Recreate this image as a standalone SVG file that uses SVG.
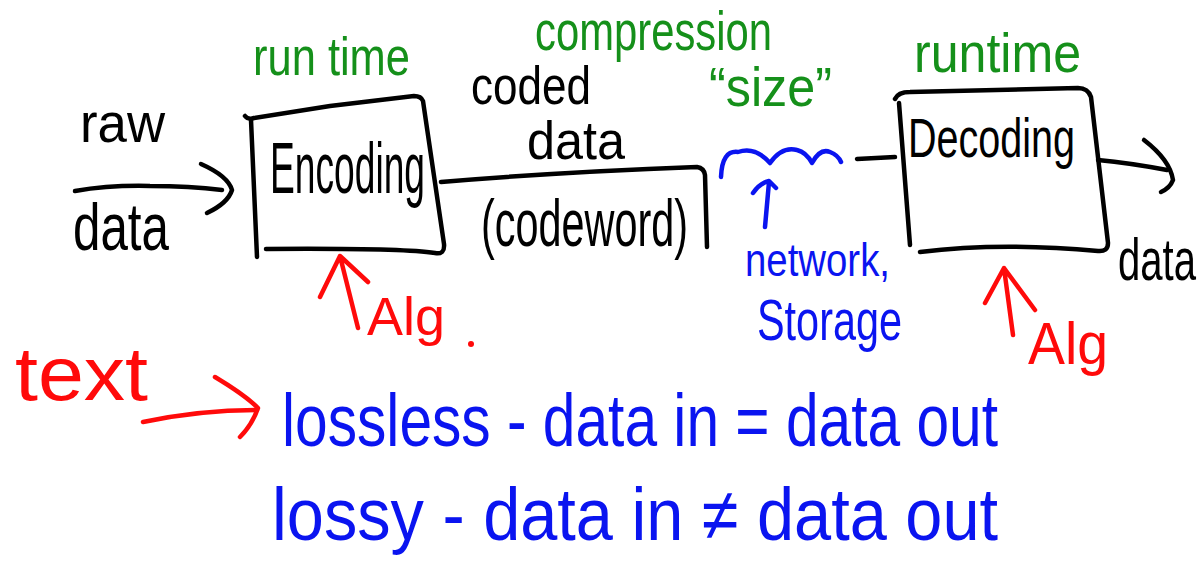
<svg xmlns="http://www.w3.org/2000/svg" width="1202" height="585" viewBox="0 0 1202 585">
<style>
.t{font-family:"Liberation Sans","DejaVu Sans",sans-serif;}
.k{fill:#000;}
.g{fill:#15901a;}
.b{fill:#0a14f0;}
.r{fill:#ff0a0a;}
.sk{fill:none;stroke:#000;stroke-width:4.5;stroke-linecap:round;stroke-linejoin:round;}
.sb{fill:none;stroke:#0a14f0;stroke-width:4.5;stroke-linecap:round;stroke-linejoin:round;}
.sr{fill:none;stroke:#ff0a0a;stroke-width:4.5;stroke-linecap:round;stroke-linejoin:round;}
</style>
<rect width="1202" height="585" fill="#fff"/>
<g id="input-label">
<text class="t k" x="80" y="142" font-size="56" textLength="85" lengthAdjust="spacingAndGlyphs">raw</text>
<text class="t k" x="73" y="250" font-size="66" textLength="96" lengthAdjust="spacingAndGlyphs">data</text>
</g>
<g id="encoding">
<path class="sk" d="M245,116 Q248,120 254,118 L330,106 L414,96 Q421,96 423,101 L444,244 Q445,255 435,253 Q400,248 266,249"/>
<path class="sk" d="M251,120 L257,257"/>
<text class="t k" x="270" y="193" font-size="72" textLength="155" lengthAdjust="spacingAndGlyphs">Encoding</text>
</g>
<g id="runtime-enc">
<text class="t g" x="253" y="75" font-size="54" textLength="157" lengthAdjust="spacingAndGlyphs">run time</text>
</g>
<g id="coded-data">
<text class="t k" x="471" y="104" font-size="54" textLength="120" lengthAdjust="spacingAndGlyphs">coded</text>
<text class="t k" x="527" y="159" font-size="54" textLength="98" lengthAdjust="spacingAndGlyphs">data</text>
<text class="t k" x="481" y="246" font-size="66" textLength="207" lengthAdjust="spacingAndGlyphs">(codeword)</text>
</g>
<g id="compression-size">
<text class="t g" x="535" y="50" font-size="56" textLength="237" lengthAdjust="spacingAndGlyphs">compression</text>
<text class="t g" x="709" y="106" font-size="56" textLength="123" lengthAdjust="spacingAndGlyphs">“size”</text>
</g>
<g id="network-storage">
<text class="t b" x="745" y="276" font-size="46" textLength="145" lengthAdjust="spacingAndGlyphs">network,</text>
<text class="t b" x="757" y="340" font-size="58" textLength="145" lengthAdjust="spacingAndGlyphs">Storage</text>
</g>
<g id="decoding">
<path class="sk" d="M895,99 Q898,92 910,92 L1078,88 Q1088,88 1091,97 L1108,243 Q1108,252 1098,251 Q1000,242 920,252"/>
<path class="sk" d="M899,103 L910,245"/>
<text class="t k" x="908" y="157" font-size="56" textLength="167" lengthAdjust="spacingAndGlyphs">Decoding</text>
</g>
<g id="runtime-dec">
<text class="t g" x="914" y="72" font-size="56" textLength="167" lengthAdjust="spacingAndGlyphs">runtime</text>
</g>
<g id="output-label">
<text class="t k" x="1118" y="280" font-size="60" textLength="78" lengthAdjust="spacingAndGlyphs">data</text>
</g>
<g id="alg-enc">
<text class="t r" x="367" y="335" font-size="54" textLength="78" lengthAdjust="spacingAndGlyphs">Alg</text>
<circle cx="471" cy="344" r="3" fill="#ff0a0a"/>
</g>
<g id="alg-dec">
<text class="t r" x="1028" y="364" font-size="60" textLength="80" lengthAdjust="spacingAndGlyphs">Alg</text>
</g>
<g id="text-label">
<text class="t r" x="15" y="400" font-size="76" textLength="133" lengthAdjust="spacingAndGlyphs">text</text>
</g>
<g id="definitions">
<text class="t b" x="282" y="446" font-size="74" textLength="716" lengthAdjust="spacingAndGlyphs">lossless - data in = data out</text>
<text class="t b" x="272" y="540" font-size="74" textLength="726" lengthAdjust="spacingAndGlyphs">lossy - data in ≠ data out</text>
</g>
<g id="connectors">
<path class="sk" d="M75,191 Q110,185 150,186 Q190,186 222,190"/>
<path class="sk" d="M201,164 Q228,176 232,190 Q228,203 207,213"/>
<path class="sk" d="M441,182 Q560,172 697,167 Q704,168 705,175 L707,247"/>
<path class="sb" d="M721,177 Q722,150 738,152 Q755,146 770,163 Q782,146 797,150 Q806,152 812,163 Q820,148 830,152 Q838,155 841,162"/>
<path class="sb" d="M765,227 L769,182 M753,193 Q760,183 769,181 L776,188"/>
<path class="sk" d="M857,159 L895,157"/>
<path class="sk" d="M1098,160 Q1130,163 1167,170"/>
<path class="sk" d="M1144,140 Q1170,160 1173,180 Q1170,188 1161,192"/>
<path class="sr" d="M358,328 L340,256 M320,297 L340,256 L368,282"/>
<path class="sr" d="M1013,335 L1004,268 M985,303 L1004,268 L1035,310"/>
<path class="sr" d="M143,422 Q200,410 257,410"/>
<path class="sr" d="M215,377 Q245,395 258,408 Q252,425 240,437"/>
</g>
</svg>
